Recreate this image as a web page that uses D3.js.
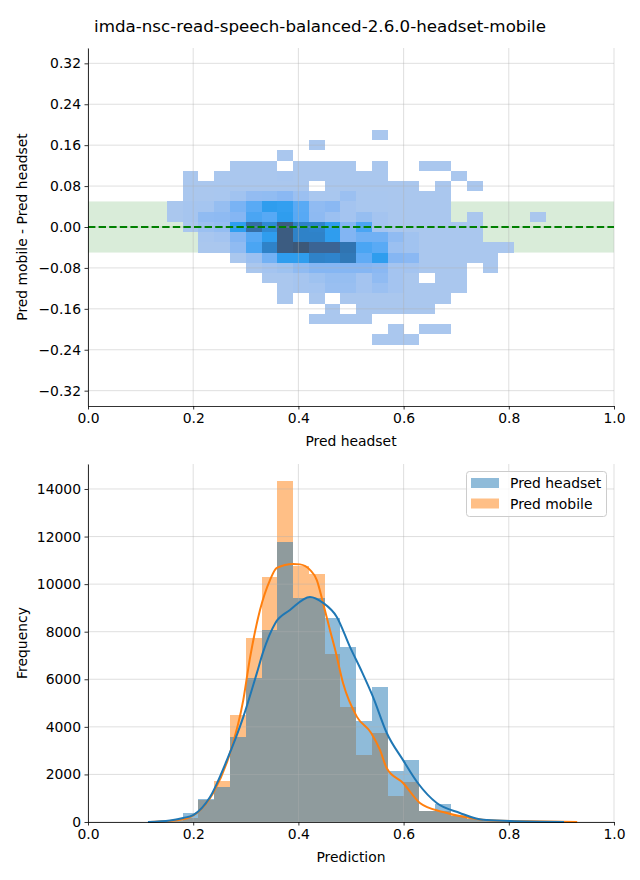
<!DOCTYPE html>
<html><head><meta charset="utf-8">
<script src="https://cdn.jsdelivr.net/npm/d3@7"></script>
<style>body{margin:0;background:#fff} text{font-family:"DejaVu Sans",sans-serif;fill:#000}</style>
</head><body><svg id="c" width="640" height="880"></svg>
<script>
// ---------------- data ----------------
const title = "imda-nsc-read-speech-balanced-2.6.0-headset-mobile";

// 2D histogram (top): column bins start/width on "Pred headset", row centers on difference
const heatXStart = 0.15;
const heatXStep = 0.03;
const heatYHalf = 0.01;
const heatRowCenters = [0.18,0.16,0.14,0.12,0.10,0.08,0.06,0.04,0.02,0.00,-0.02,-0.04,-0.06,-0.08,-0.10,-0.12,-0.14,-0.16,-0.18,-0.20,-0.22];
const heatCounts = [
 [0,0,0,0,0,0,0,0,0,0,0,0,0,50,0,0,0,0,0,0,0,0,0,0],
 [0,0,0,0,0,0,0,0,0,50,0,0,0,0,0,0,0,0,0,0,0,0,0,0],
 [0,0,0,0,0,0,0,50,0,0,0,0,0,0,0,0,0,0,0,0,0,0,0,0],
 [0,0,0,0,50,50,50,0,50,50,50,50,0,50,0,0,50,50,0,0,0,0,0,0],
 [0,50,0,60,50,50,50,150,50,50,50,50,50,50,0,0,0,0,50,0,0,0,0,0],
 [0,50,50,100,50,50,50,50,50,0,50,50,50,50,50,50,0,50,0,50,0,0,0,0],
 [0,50,50,100,400,900,950,1200,600,100,100,600,100,100,50,50,50,50,0,0,0,0,0,0],
 [50,200,250,800,1500,2000,2750,2650,2000,1000,1200,300,100,100,50,50,50,50,0,0,0,0,0,0],
 [50,200,1000,1050,1300,2300,2050,2750,2050,1050,600,300,800,300,50,50,50,50,0,50,0,0,0,50],
 [0,50,600,850,2700,4600,3400,5700,3700,3600,2750,1350,2300,300,50,50,50,50,50,50,0,0,0,0],
 [0,0,150,300,1300,2050,2750,5700,3700,3700,2750,1350,1650,1650,1000,400,50,50,50,50,0,0,0,0],
 [0,0,50,50,1000,2300,3700,5700,6000,5100,5100,4300,2300,2000,600,400,50,50,50,50,50,50,0,0],
 [0,0,0,0,50,600,1600,2750,2750,3700,3600,4100,1900,2750,1300,1200,50,50,50,50,50,0,0,0],
 [0,0,0,0,0,50,300,500,1000,1300,1300,1300,1300,1200,300,300,50,50,50,0,50,0,0,0],
 [0,0,0,0,0,0,50,50,200,500,800,800,300,1000,300,50,0,50,50,0,0,0,0,0],
 [0,0,0,0,0,0,0,50,200,250,700,700,300,600,300,50,50,50,50,0,0,0,0,0],
 [0,0,0,0,0,0,0,50,0,50,0,50,50,50,50,50,50,50,0,0,0,0,0,0],
 [0,0,0,0,0,0,0,0,0,0,50,0,50,50,50,50,50,0,0,0,0,0,0,0],
 [0,0,0,0,0,0,0,0,0,50,50,50,50,0,0,0,0,0,0,0,0,0,0,0],
 [0,0,0,0,0,0,0,0,0,0,0,0,0,0,50,0,50,50,0,0,0,0,0,0],
 [0,0,0,0,0,0,0,0,0,0,0,0,0,50,50,50,0,0,0,0,0,0,0,0]
];
const heatMax = 6000;
const cmapStops = [0, 0.05, 0.12, 0.2, 0.33, 0.45, 0.6, 0.72, 0.85, 1];
const cmapColors = ["#abc8ee","#a4c4f0","#98bff1","#8ab8f3","#5aaaf5","#2f9ef0","#2f84cc","#3074b0","#3b6494","#3c5878"];
const topXTicks = [0, 0.2, 0.4, 0.6, 0.8, 1.0];
const topYTicks = [-0.32,-0.24,-0.16,-0.08,0,0.08,0.16,0.24,0.32];
const bandLo = -0.05, bandHi = 0.05;

// 1D histogram (bottom)
const histStart = 0.12;
const histStep = 0.03;
const headsetCounts = [30,100,370,950,1470,3570,6050,8060,11760,9420,9420,8570,7350,4250,5670,2150,2600,460,760,250,120,60,30,15,10,5,0];
const mobileCounts  = [20,60,150,940,1720,4500,7720,10300,14330,10760,10420,7050,4830,2820,3740,1090,1680,460,460,290,120,60,40,30,20,10,5];
const headsetKde = [[0.114,0],[0.156,60],[0.181,170],[0.200,290],[0.232,1050],[0.264,2600],[0.295,4400],[0.321,6260],[0.333,7150],[0.356,8360],[0.384,8910],[0.422,9460],[0.447,9210],[0.473,8620],[0.498,7360],[0.521,6300],[0.542,5250],[0.568,3740],[0.599,2600],[0.627,1640],[0.663,800],[0.707,380],[0.751,90],[0.802,40],[0.905,0]];
const mobileKde = [[0.118,0],[0.181,120],[0.207,380],[0.238,1220],[0.270,2900],[0.295,5100],[0.308,6900],[0.327,8910],[0.346,10170],[0.359,10680],[0.390,10850],[0.403,10830],[0.422,10600],[0.435,10170],[0.447,9200],[0.460,8070],[0.470,7230],[0.485,5830],[0.511,4430],[0.538,3750],[0.555,3030],[0.568,2260],[0.599,1640],[0.631,800],[0.675,420],[0.726,170],[0.770,60],[0.835,30],[0.930,0]];
const botXTicks = [0, 0.2, 0.4, 0.6, 0.8, 1.0];
const botYTicks = [0,2000,4000,6000,8000,10000,12000,14000];
const seriesNames = ["Pred headset","Pred mobile"];
const seriesColors = ["#1f77b4","#ff7f0e"];

// ---------------- drawing ----------------
const svg = d3.select("#c");
const FS = 13.9;
const gridStyle = g => g.attr("stroke","#b0b0b0").attr("stroke-opacity",0.45).attr("stroke-width",0.9);

svg.append("text").attr("x",320).attr("y",32).attr("text-anchor","middle")
  .style("font-size","16.7px").text(title);

function axes(g, x, y, xt, yt, xfmt, yfmt, box) {
  const ax = g.append("g").attr("transform",`translate(0,${box.b})`)
    .call(d3.axisBottom(x).tickValues(xt).tickFormat(xfmt).tickSize(3.5).tickPadding(3.5).tickSizeOuter(0));
  const ay = g.append("g").attr("transform",`translate(${box.l},0)`)
    .call(d3.axisLeft(y).tickValues(yt).tickFormat(yfmt).tickSize(3.5).tickPadding(3.5).tickSizeOuter(0));
  [ax, ay].forEach(a => {
    a.selectAll("text").style("font-size",FS+"px").style("font-family","DejaVu Sans");
    a.selectAll("line").attr("stroke","#000").attr("stroke-width",0.8);
    a.select(".domain").attr("stroke","#000").attr("stroke-width",0.8);
  });
}
function grid(g, x, y, xt, yt, box) {
  const gg = g.append("g").call(gridStyle);
  gg.selectAll(".vx").data(xt).join("line").attr("x1",d=>x(d)).attr("x2",d=>x(d)).attr("y1",box.t).attr("y2",box.b);
  gg.selectAll(".hy").data(yt).join("line").attr("y1",d=>y(d)).attr("y2",d=>y(d)).attr("x1",box.l).attr("x2",box.r);
}
const minusFmt = f => d => f(d).replace("-","\u2212");

// ---- top ----
const T = {l:88, r:614, t:48, b:406};
const x1 = d3.scaleLinear().domain([0,1]).range([T.l,T.r]);
const y1 = d3.scaleLinear().domain([-0.35,0.35]).range([T.b,T.t]);
const gT = svg.append("g");
gT.append("rect").attr("x",x1(0)).attr("width",x1(1)-x1(0)).attr("y",y1(bandHi)).attr("height",y1(bandLo)-y1(bandHi))
  .attr("fill","green").attr("fill-opacity",0.15);
const cmap = d3.scaleLinear().domain(cmapStops).range(cmapColors).interpolate(d3.interpolateLab).clamp(true);
const cells = [];
heatRowCenters.forEach((yc,i) => heatCounts[i].forEach((v,j) => { if (v>0) cells.push({yc, j, v}); }));
gT.append("g").selectAll("rect").data(cells).join("rect")
  .attr("x",d=>x1(heatXStart+d.j*heatXStep)).attr("width",d=>x1(heatXStart+(d.j+1)*heatXStep)-x1(heatXStart+d.j*heatXStep))
  .attr("y",d=>y1(d.yc+heatYHalf)).attr("height",d=>y1(d.yc-heatYHalf)-y1(d.yc+heatYHalf))
  .attr("fill",d=>cmap(d.v/heatMax)).attr("shape-rendering","crispEdges");
grid(gT, x1, y1, topXTicks, topYTicks, T);
gT.append("line").attr("x1",x1(0)).attr("x2",x1(1)).attr("y1",y1(0)).attr("y2",y1(0))
  .attr("stroke","green").attr("stroke-width",2).attr("stroke-dasharray","7.4,3.2");
axes(gT, x1, y1, topXTicks, topYTicks, d3.format(".1f"), minusFmt(d3.format(".2f")), T);
gT.append("text").attr("x",(T.l+T.r)/2).attr("y",446).attr("text-anchor","middle").style("font-size",FS+"px").text("Pred headset");
gT.append("text").attr("transform",`translate(27,${(T.t+T.b)/2}) rotate(-90)`).attr("text-anchor","middle").style("font-size",FS+"px").text("Pred mobile - Pred headset");

// ---- bottom ----
const B = {l:88, r:614, t:464, b:822};
const x2 = d3.scaleLinear().domain([0,1]).range([B.l,B.r]);
const y2 = d3.scaleLinear().domain([0,15050]).range([B.b,B.t]);
const gB = svg.append("g");
function bars(counts, color) {
  gB.append("g").selectAll("rect").data(counts).join("rect")
    .attr("x",(d,i)=>x2(histStart+i*histStep)).attr("width",(d,i)=>x2(histStart+(i+1)*histStep)-x2(histStart+i*histStep))
    .attr("y",d=>y2(d)).attr("height",d=>y2(0)-y2(d))
    .attr("fill",color).attr("fill-opacity",0.5).attr("shape-rendering","crispEdges");
}
bars(mobileCounts, seriesColors[1]);
bars(headsetCounts, seriesColors[0]);
grid(gB, x2, y2, botXTicks, botYTicks, B);
const line = d3.line().x(d=>x2(d[0])).y(d=>y2(d[1])).curve(d3.curveMonotoneX);
gB.append("path").datum(mobileKde).attr("d",line).attr("fill","none").attr("stroke",seriesColors[1]).attr("stroke-width",2);
gB.append("path").datum(headsetKde).attr("d",line).attr("fill","none").attr("stroke",seriesColors[0]).attr("stroke-width",2);
axes(gB, x2, y2, botXTicks, botYTicks, d3.format(".1f"), d3.format("d"), B);
gB.append("text").attr("x",(B.l+B.r)/2).attr("y",862).attr("text-anchor","middle").style("font-size",FS+"px").text("Prediction");
gB.append("text").attr("transform",`translate(27,${(B.t+B.b)/2}) rotate(-90)`).attr("text-anchor","middle").style("font-size",FS+"px").text("Frequency");

// legend
const lg = gB.append("g");
lg.append("rect").attr("x",466.5).attr("y",471.5).attr("width",140).attr("height",45).attr("rx",3)
  .attr("fill","#fff").attr("fill-opacity",0.8).attr("stroke","#cccccc").attr("stroke-width",1);
seriesNames.forEach((n,i) => {
  lg.append("rect").attr("x",471).attr("y",478+i*20.5).attr("width",28).attr("height",10)
    .attr("fill",seriesColors[i]).attr("fill-opacity",0.5);
  lg.append("text").attr("x",510).attr("y",488+i*20.5).style("font-size",FS+"px").text(n);
});
</script></body></html>
